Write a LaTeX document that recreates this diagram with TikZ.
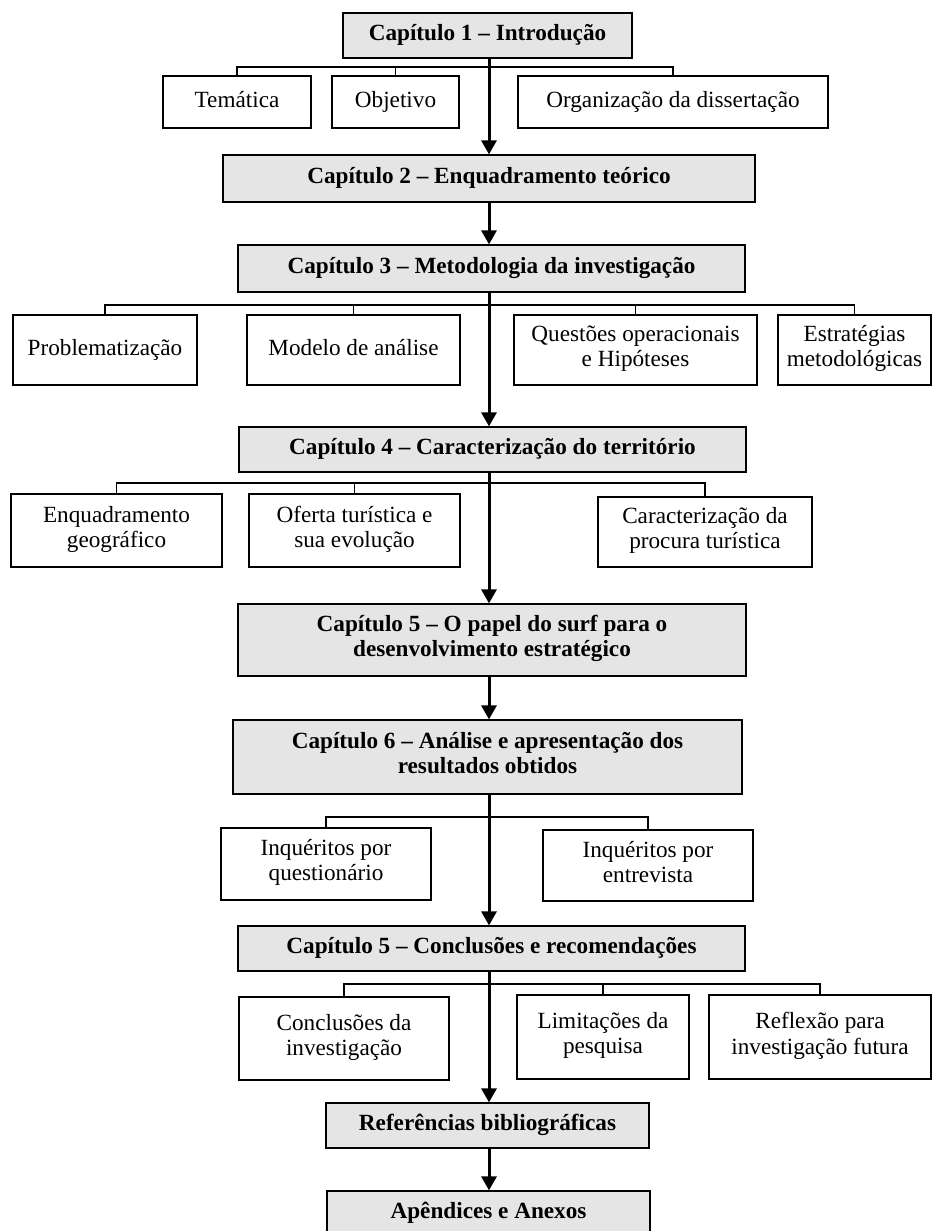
\documentclass[tikz,border=0pt]{standalone}
\usepackage{fontspec}
\setmainfont{Liberation Serif}
\usepackage{tikz}
\usetikzlibrary{arrows.meta,shadows}

\begin{document}
\begin{tikzpicture}[x=0.5pt,y=-0.5pt,font=\fontsize{11.6}{12.6}\selectfont]
\tikzstyle{box}=[draw,line width=0.6pt,fill=white,inner sep=0pt,align=center,execute at begin node=\strut,execute at end node=\strut,drop shadow={shadow xshift=0.6pt,shadow yshift=-0.6pt,fill=black!80,opacity=1}]
\tikzstyle{chap}=[box,fill=black!10,font=\fontsize{11.6}{12.6}\selectfont\bfseries]
\tikzstyle{spine}=[line width=1.5pt,-{Triangle[length=7pt,width=7.5pt]}]
\tikzstyle{brace}=[line width=0.6pt]
\useasboundingbox (0,0) rectangle (934,1231);
\coordinate (sp) at (489,0);
% capitulo 1
\node[chap,minimum width=144.5pt,minimum height=22.5pt] (ch1) at (487.5,35.5) {Capítulo 1 -- Introdução};
\node[box,minimum width=74pt,minimum height=26pt] (tem) at (237,102) {Temática};
\node[box,minimum width=63.5pt,minimum height=26pt] (obj) at (395.5,102) {Objetivo};
\node[box,minimum width=155pt,minimum height=26pt] (org) at (673,102) {Organização da dissertação};
\coordinate (b1) at (489,67);
\draw[brace] (tem.north) |- (b1) -| (org.north);
\draw[brace] (obj.north) -- (obj.north |- b1);
% capitulo 2
\node[chap,minimum width=266pt,minimum height=23.5pt] (ch2) at (489,178.5) {Capítulo 2 -- Enquadramento teórico};
% capitulo 3
\node[chap,minimum width=253.5pt,minimum height=23.5pt] (ch3) at (491.5,268.5) {Capítulo 3 -- Metodologia da investigação};
\node[box,minimum width=92pt,minimum height=35pt] (prob) at (105,350) {Problematização};
\node[box,minimum width=106.5pt,minimum height=35pt] (mod) at (353.5,350) {Modelo de análise};
\node[box,minimum width=121.5pt,minimum height=35pt] (que) at (635.5,350) {Questões operacionais\\e Hipóteses};
\node[box,minimum width=76.5pt,minimum height=35pt] (est) at (854.5,350) {Estratégias\\metodológicas};
\coordinate (b3) at (489,305);
\draw[brace] (prob.north) |- (b3) -| (est.north);
\draw[brace] (mod.north) -- (mod.north |- b3);
\draw[brace] (que.north) -- (que.north |- b3);
% capitulo 4
\node[chap,minimum width=253.5pt,minimum height=22.5pt] (ch4) at (492.5,449.5) {Capítulo 4 -- Caracterização do território};
\node[box,minimum width=105.5pt,minimum height=36.5pt] (enq) at (116.5,530.5) {Enquadramento\\geográfico};
\node[box,minimum width=105.5pt,minimum height=36.5pt] (ofe) at (354.5,530.5) {Oferta turística e\\sua evolução};
\node[box,minimum width=107pt,minimum height=35pt] (car) at (705,532) {Caracterização da\\procura turística};
\coordinate (b4) at (489,483);
\draw[brace] (enq.north) |- (b4) -| (car.north);
\draw[brace] (ofe.north) -- (ofe.north |- b4);
% capitulo 5 e 6
\node[chap,minimum width=254pt,minimum height=36pt] (ch5) at (492,640) {Capítulo 5 -- O papel do surf para o\\desenvolvimento estratégico};
\node[chap,minimum width=254.5pt,minimum height=37pt] (ch6) at (487.5,757) {Capítulo 6 -- Análise e apresentação dos\\resultados obtidos};
\node[box,minimum width=105pt,minimum height=36pt] (inq1) at (326,864) {Inquéritos por\\questionário};
\node[box,minimum width=105pt,minimum height=35.5pt] (inq2) at (648,865.5) {Inquéritos por\\entrevista};
\coordinate (b6) at (489,817);
\draw[brace] (inq1.north) |- (b6) -| (inq2.north);
% conclusoes
\node[chap,minimum width=253.5pt,minimum height=22.5pt] (ch7) at (491.5,948.5) {Capítulo 5 -- Conclusões e recomendações};
\node[box,minimum width=105pt,minimum height=41.5pt] (con) at (344,1038.5) {Conclusões da\\investigação};
\node[box,minimum width=86pt,minimum height=42pt] (lim) at (603,1037) {Limitações da\\pesquisa};
\node[box,minimum width=111pt,minimum height=42pt] (refl) at (820,1037) {Reflexão para\\investigação futura};
\coordinate (b7) at (489,984);
\draw[brace] (con.north) |- (b7) -| (refl.north);
\draw[brace] (lim.north) -- (lim.north |- b7);
% fim
\node[chap,minimum width=161.5pt,minimum height=22.5pt] (refb) at (487.5,1125.5) {Referências bibliográficas};
\node[chap,minimum width=161.5pt,minimum height=22pt] (ape) at (488.5,1213) {Apêndices e Anexos};
% eixo principal
\draw[spine] (ch1.south -| sp) -- (ch2.north -| sp);
\draw[spine] (ch2.south -| sp) -- (ch3.north -| sp);
\draw[spine] (ch3.south -| sp) -- (ch4.north -| sp);
\draw[spine] (ch4.south -| sp) -- (ch5.north -| sp);
\draw[spine] (ch5.south -| sp) -- (ch6.north -| sp);
\draw[spine] (ch6.south -| sp) -- (ch7.north -| sp);
\draw[spine] (ch7.south -| sp) -- (refb.north -| sp);
\draw[spine] (refb.south -| sp) -- (ape.north -| sp);
\end{tikzpicture}
\end{document}
